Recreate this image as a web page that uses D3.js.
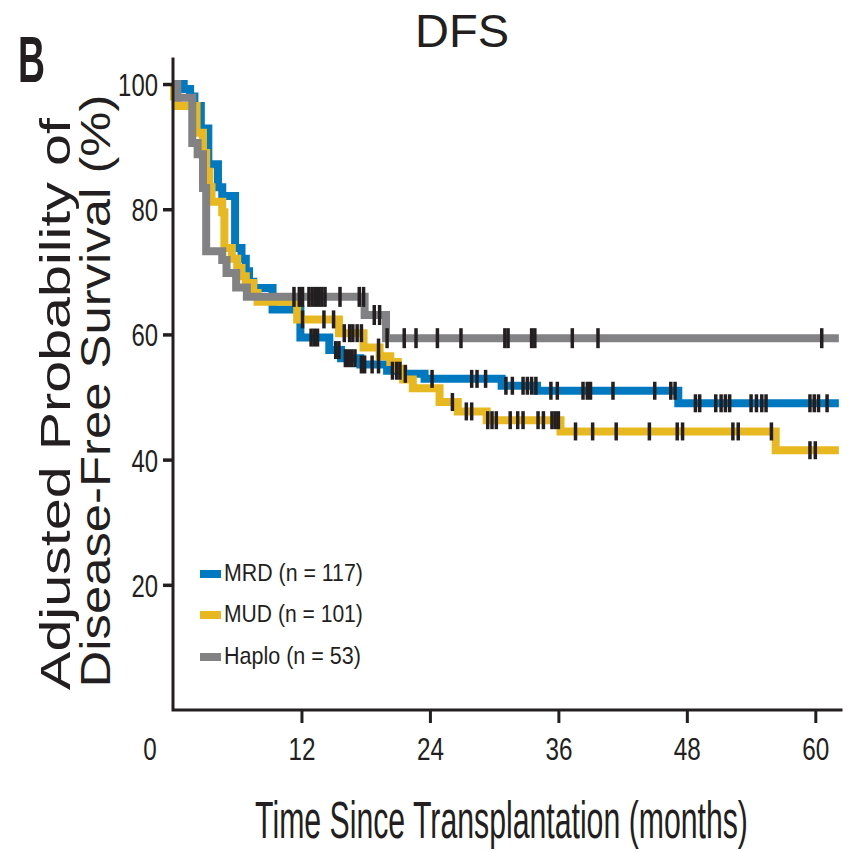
<!DOCTYPE html>
<html>
<head>
<meta charset="utf-8">
<script src="https://cdn.jsdelivr.net/npm/d3@7"></script>
<style>
  body { margin: 0; background: #fff; }
  text { fill: #231F20; }
</style>
</head>
<body>
<svg id="chart" width="848" height="852"></svg>
<script>
// Adjusted disease-free survival (%) — step times in months, value after each step
const mrdTimes  = [0, 1.0, 1.6, 2.0, 2.6, 3.3, 4.2, 4.6, 5.8, 6.4, 6.8, 7.1, 7.5, 9.3, 11.9, 14.6, 15.7, 17.5, 20.0, 21.5, 23.5, 30.7, 34.0, 47.2, 62.2];
const mrdValues = [100, 99.2, 98.0, 96.5, 92.9, 87.2, 83.5, 82.1, 73.8, 72.1, 70.1, 68.4, 67.4, 64.0, 59.5, 57.5, 56.2, 55.2, 54.2, 53.7, 52.9, 51.8, 51.0, 49.0, 49.0];
const mrdCensor = [12.9, 13.2, 13.5, 15.2, 15.5, 16.1, 16.4, 16.7, 17.0, 17.6, 17.9, 18.6, 19.2, 20.5, 20.9, 21.2, 21.7, 24.2, 27.9, 28.4, 29.2, 31.1, 31.7, 32.7, 33.1, 33.5, 33.9, 35.3, 35.9, 38.3, 38.7, 39.0, 41.1, 45.0, 46.5, 46.9, 48.8, 49.2, 50.7, 51.2, 51.6, 52.0, 54.0, 54.5, 55.0, 55.4, 59.5, 59.9, 60.3, 61.1];

const mudTimes  = [0, 0.1, 0.4, 2.2, 2.8, 3.1, 3.4, 3.6, 4.6, 4.8, 5.5, 6.0, 6.4, 6.8, 7.5, 7.9, 11.6, 15.5, 17.8, 19.3, 20.3, 21.0, 21.5, 22.4, 24.9, 26.6, 29.3, 36.2, 56.3, 62.2];
const mudValues = [100, 98.0, 96.5, 92.2, 89.0, 86.0, 83.5, 81.2, 79.5, 73.8, 72.1, 70.6, 69.3, 68.2, 66.6, 65.2, 62.4, 60.2, 57.9, 56.5, 55.6, 54.5, 52.8, 51.4, 49.2, 47.7, 46.3, 44.5, 41.5, 41.5];
const mudCensor = [12.1, 14.1, 15.0, 16.0, 16.5, 16.8, 17.2, 17.6, 19.2, 26.1, 27.4, 27.9, 29.4, 29.8, 30.2, 31.5, 32.2, 32.7, 34.1, 34.6, 35.4, 35.7, 36.0, 37.6, 39.2, 41.4, 44.5, 47.1, 47.6, 52.3, 52.8, 55.9, 59.5, 60.0];

const hapTimes  = [0, 0.4, 1.8, 2.3, 2.8, 3.1, 4.6, 5.0, 5.9, 6.9, 17.9, 19.9, 62.2];
const hapValues = [100, 97.8, 90.6, 88.8, 83.4, 73.3, 71.9, 69.8, 67.5, 66.0, 63.1, 59.4, 59.4];
const hapCensor = [11.3, 11.8, 12.1, 12.7, 13.0, 13.3, 13.6, 13.9, 14.2, 15.6, 17.4, 17.8, 18.8, 19.3, 20.0, 21.6, 22.7, 24.7, 26.9, 31.0, 31.3, 33.5, 33.8, 37.3, 39.7, 60.6];

const groupNames  = ["MRD (n = 117)", "MUD (n = 101)", "Haplo (n = 53)"];
const groupColors = ["#0079C1", "#E8B821", "#828285"];

const xTickValues = [0, 12, 24, 36, 48, 60];
const yTickValues = [20, 40, 60, 80, 100];

const titleText = "DFS";
const panelLetter = "B";
const xTitle = "Time Since Transplantation (months)";
const yTitleLines = ["Adjusted Probability of", "Disease-Free Survival (%)"];

const groups = [
  { times: mrdTimes, values: mrdValues, censor: mrdCensor },
  { times: mudTimes, values: mudValues, censor: mudCensor },
  { times: hapTimes, values: hapValues, censor: hapCensor }
].map((g, i) => ({ ...g, name: groupNames[i], color: groupColors[i] }));

const ink = "#231F20";
const narrow = "'Liberation Sans Narrow','Arial Narrow','Liberation Sans',Arial,sans-serif";

const svg = d3.select("#chart");

const x = d3.scaleLinear().domain([0, 62.4]).range([173, 841]);
const y = d3.scaleLinear().domain([0, 104]).range([710, 59]);

// Condensed text: draw at the given size, then squeeze horizontally to a target width
function condensedText(parent, str, opts) {
  const g = parent.append("g");
  const t = g.append("text")
    .attr("text-anchor", opts.anchor || "start")
    .attr("font-family", narrow)
    .attr("font-size", opts.size)
    .attr("font-weight", opts.weight || "normal")
    .text(str);
  const natural = t.node().getComputedTextLength();
  const sx = opts.width / natural;
  g.attr("transform", `translate(${opts.x},${opts.y})${opts.rotate ? " rotate(" + opts.rotate + ")" : ""} scale(${sx},1)`);
  return t;
}

// Survival curves (step functions)
const line = d3.line()
  .x(d => x(d[0]))
  .y(d => y(d[1]))
  .curve(d3.curveStepAfter);

const curves = svg.append("g").attr("class", "curves");
groups.forEach(g => {
  curves.append("path")
    .datum(d3.zip(g.times, g.values))
    .attr("d", line)
    .attr("fill", "none")
    .attr("stroke", g.color)
    .attr("stroke-width", 8)
    .attr("stroke-linejoin", "miter");
});

// Censoring marks
function valueAt(g, t) {
  const i = d3.bisectRight(g.times, t) - 1;
  return g.values[Math.max(0, i)];
}
const marks = svg.append("g").attr("class", "censor");
groups.forEach((g, gi) => {
  const h = gi === 2 ? 20 : 18;
  marks.selectAll(null)
    .data(g.censor)
    .join("rect")
    .attr("x", t => x(t) - 1.75)
    .attr("y", t => y(valueAt(g, t)) - h / 2)
    .attr("width", 3.5)
    .attr("height", h)
    .attr("fill", ink);
});

// Axes
const yAxis = svg.append("g")
  .attr("transform", `translate(${x(0)},0)`)
  .call(d3.axisLeft(y).tickValues(yTickValues).tickSize(10).tickSizeOuter(0).tickPadding(5));
yAxis.select(".domain").remove();
yAxis.selectAll(".tick line").attr("stroke", ink).attr("stroke-width", 3.5);
yAxis.selectAll(".tick text")
  .attr("font-family", narrow)
  .attr("font-size", 32)
  .attr("fill", ink)
  .attr("textLength", d => String(d).length * 13.3)
  .attr("lengthAdjust", "spacingAndGlyphs")
  .attr("dy", "0.36em");

const xAxis = svg.append("g")
  .attr("transform", `translate(0,${y(0)})`)
  .call(d3.axisBottom(x).tickValues(xTickValues.filter(v => v > 0)).tickSize(13).tickSizeOuter(0));
xAxis.select(".domain").remove();
xAxis.selectAll(".tick line").attr("stroke", ink).attr("stroke-width", 3);
xAxis.selectAll(".tick text")
  .attr("font-family", narrow)
  .attr("font-size", 32)
  .attr("fill", ink)
  .attr("y", 38)
  .attr("dy", "0.36em")
  .attr("textLength", d => String(d).length * 13.5)
  .attr("lengthAdjust", "spacingAndGlyphs");

// "0" label sits left of the origin
svg.append("text")
  .attr("x", x(xTickValues[0]) - 23)
  .attr("y", y(0) + 38)
  .attr("dy", "0.36em")
  .attr("text-anchor", "middle")
  .attr("font-family", narrow)
  .attr("font-size", 32)
  .attr("textLength", 13.5)
  .attr("lengthAdjust", "spacingAndGlyphs")
  .text(xTickValues[0]);

// Axis lines
svg.append("path")
  .attr("d", `M${x(0)},${y(104)}V${y(0)}H${x(62.4)}`)
  .attr("fill", "none")
  .attr("stroke", ink)
  .attr("stroke-width", 3)
  .attr("stroke-linecap", "square");

// Legend
const legend = svg.append("g").attr("class", "legend");
const legendRows = [574, 615, 657];
const legendWidths = [139, 139, 137];
groups.forEach((g, i) => {
  legend.append("line")
    .attr("x1", 200).attr("x2", 221)
    .attr("y1", legendRows[i]).attr("y2", legendRows[i])
    .attr("stroke", g.color)
    .attr("stroke-width", 8);
  condensedText(legend, g.name, { x: 224, y: legendRows[i] + 7, size: 24, width: legendWidths[i] });
});

// Titles
svg.append("text")
  .attr("x", 462).attr("y", 47)
  .attr("text-anchor", "middle")
  .attr("font-family", "'Liberation Sans',Arial,sans-serif")
  .attr("font-size", 47)
  .text(titleText);

condensedText(svg, panelLetter, { x: 18, y: 81.5, size: 64, weight: "bold", width: 27 });

condensedText(svg, xTitle, { x: 501.5, y: 838, size: 51, width: 493, anchor: "middle" });

const yTitlePos = [{ x: 70, c: 404, len: 572 }, { x: 110, c: 391, len: 593 }];
yTitleLines.forEach((t, i) => {
  const p = yTitlePos[i];
  // rotated first, so the squeeze acts along the reading direction
  condensedText(svg, t, { x: p.x, y: p.c, size: 42, width: p.len, anchor: "middle", rotate: -90 });
});
</script>
</body>
</html>
